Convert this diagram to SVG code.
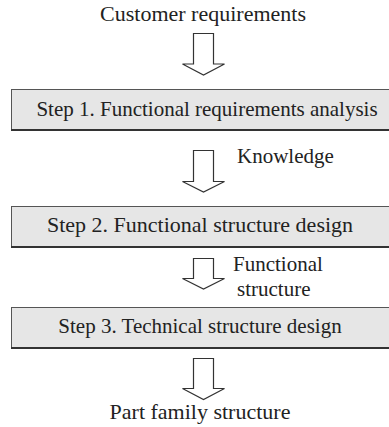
<svg xmlns="http://www.w3.org/2000/svg" width="389" height="427" viewBox="0 0 389 427">
  <style>
    text { font-family: "Liberation Serif", "Times New Roman", serif; font-size: 21px; fill: #222; }
    .big { font-size: 22px; }
    .box rect { fill: #e6e6e6; stroke: #555; stroke-width: 1; }
    .box line { stroke: #333; stroke-width: 2; }
    .arrow { fill: #fff; stroke: #333; stroke-width: 1.2; stroke-linejoin: miter; }
  </style>
  <rect width="389" height="427" fill="#fff"/>

  <g id="customer-requirements">
    <text class="big" x="203" y="21" text-anchor="middle">Customer requirements</text>
  </g>

  <g id="step1" class="box">
    <rect x="11.5" y="89.5" width="380" height="40"/>
    <line x1="11" y1="130" x2="389" y2="130"/>
    <text x="207" y="116" text-anchor="middle">Step 1. Functional requirements analysis</text>
  </g>

  <g id="step2" class="box">
    <rect x="11.5" y="206.5" width="380" height="40"/>
    <line x1="11" y1="247" x2="389" y2="247"/>
    <text class="big" x="200" y="232" text-anchor="middle">Step 2. Functional structure design</text>
  </g>

  <g id="step3" class="box">
    <rect x="11.5" y="307.5" width="380" height="40"/>
    <line x1="11" y1="348" x2="389" y2="348"/>
    <text x="200" y="333" text-anchor="middle">Step 3. Technical structure design</text>
  </g>

  <g id="part-family-structure">
    <text class="big" x="200" y="419" text-anchor="middle">Part family structure</text>
  </g>

  <g id="connectors">
    <polygon class="arrow" points="193.5,33.5 213.5,33.5 213.5,64 224.5,64 203.5,75 182.5,64 193.5,64"/>
    <polygon class="arrow" points="193.5,150.5 213.5,150.5 213.5,181.5 224.5,181.5 203.5,192 182.5,181.5 193.5,181.5"/>
    <polygon class="arrow" points="193.5,258.5 213.5,258.5 213.5,278.5 224.5,278.5 203.5,289 182.5,278.5 193.5,278.5"/>
    <polygon class="arrow" points="193.5,358.5 213.5,358.5 213.5,388.5 224.5,388.5 203.5,399.5 182.5,388.5 193.5,388.5"/>
    <text x="237" y="163">Knowledge</text>
    <text x="233" y="271">Functional</text>
    <text x="237" y="296">structure</text>
  </g>
</svg>
